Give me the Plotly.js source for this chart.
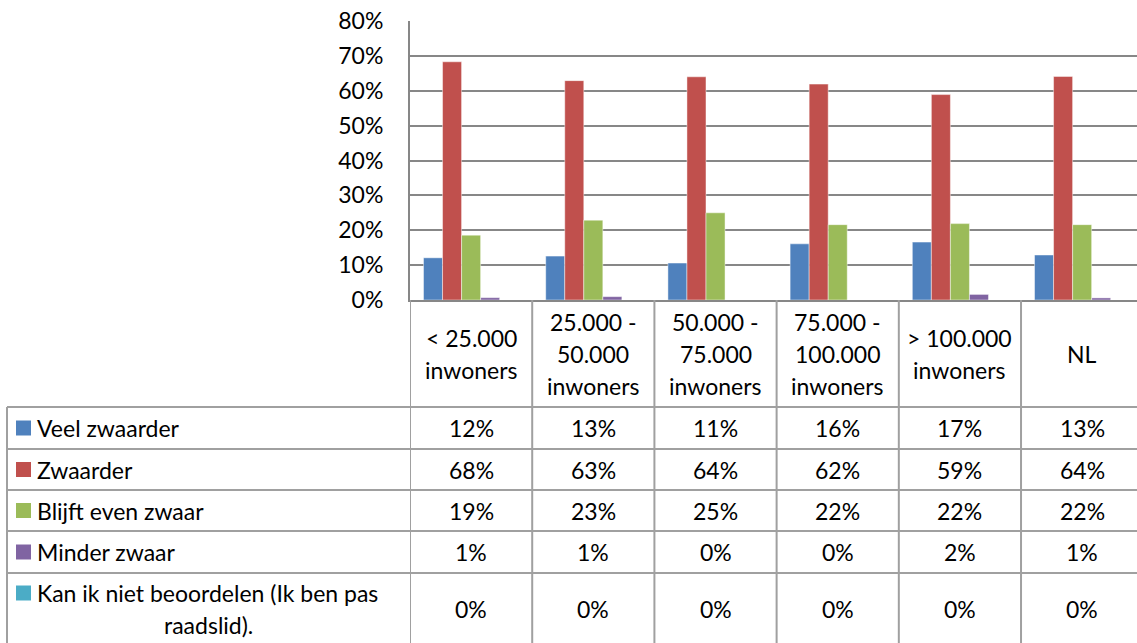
<!DOCTYPE html>
<html><head><meta charset="utf-8">
<script src="https://cdn.plot.ly/plotly-3.0.1.min.js"></script>
<style>html,body{margin:0;padding:0;background:#fff}#chart{width:1137px;height:643px}</style>
</head><body><div id="chart"></div>
<script>
// ---- data ----
const categories = ["&lt; 25.000<br>inwoners", "25.000 -<br>50.000<br>inwoners", "50.000 -<br>75.000<br>inwoners", "75.000 -<br>100.000<br>inwoners", "&gt; 100.000<br>inwoners", "NL"];
const seriesNames = ["Veel zwaarder", "Zwaarder", "Blijft even zwaar", "Minder zwaar", "Kan ik niet beoordelen (Ik ben pas<br>raadslid)."];
const veelZwaarder = [0.121, 0.126, 0.106, 0.161, 0.166, 0.129];
const zwaarder = [0.683, 0.629, 0.640, 0.619, 0.589, 0.641];
const blijftEvenZwaar = [0.186, 0.229, 0.250, 0.216, 0.219, 0.216];
const minderZwaar = [0.0067, 0.0096, 0, 0, 0.016, 0.006];
const kanNietBeoordelen = [0, 0, 0, 0, 0, 0];
const yTickVals = [0, 0.1, 0.2, 0.3, 0.4, 0.5, 0.6, 0.7, 0.8];
const yTickText = ["0%", "10%", "20%", "30%", "40%", "50%", "60%", "70%", "80%"];

const seriesValues = [veelZwaarder, zwaarder, blijftEvenZwaar, minderZwaar, kanNietBeoordelen];
const colors = ["#4F81BD", "#C0504D", "#9BBB59", "#8064A2", "#4BACC6"];

// ---- layout constants (pixels) ----
const W = 1137, H = 643;
const plotTop = 21, plotBottom = 300, plotLeft = 410, tableLeft = 7;
const rowLines = [407, 449, 490, 531, 573];
const headerCenter = 353.5, headerLineGap = 32;
const rowCenters = [428, 469.5, 510.5, 552, 593];
const lastRowValueCenter = 609;
const FONT = "Lato, 'Open Sans', sans-serif";
const FS = 23;
const gridCol = "#878787", tableCol = "#a0a0a0";
const px = v => v / W;
const py = v => 1 - v / H;

const traces = seriesValues.map((vals, i) => ({
  type: "bar", x: categories, y: vals, name: seriesNames[i],
  marker: {color: colors[i], line: {color: "rgba(255,255,255,0.45)", width: 1}},
  hoverinfo: "none"
}));

const shapes = [];
const annotations = [];

// vertical table lines at category boundaries (through the x scale)
for (let i = 0; i <= categories.length; i++) {
  shapes.push({type: "line", xref: "x", yref: "paper", x0: i - 0.5, x1: i - 0.5, y0: 0, y1: py(plotBottom),
    line: {color: tableCol, width: 2}, layer: "above"});
}
// left border of series-name column
shapes.push({type: "line", xref: "paper", yref: "paper", x0: px(tableLeft), x1: px(tableLeft), y0: 0, y1: py(rowLines[0]),
  line: {color: tableCol, width: 2}});
// horizontal row lines
rowLines.forEach(r => shapes.push({type: "line", xref: "paper", yref: "paper", x0: px(tableLeft), x1: 1, y0: py(r), y1: py(r),
  line: {color: tableCol, width: 2}}));

// header labels
categories.forEach((c, i) => {
  const lines = c.split("<br>");
  lines.forEach((ln, k) => {
    const off = (k - (lines.length - 1) / 2) * headerLineGap;
    annotations.push({xref: "x", yref: "paper", x: i, y: py(headerCenter + off), text: ln, showarrow: false,
      xanchor: "center", yanchor: "middle", font: {family: FONT, size: FS, color: "#000"}});
  });
});

// series rows
seriesNames.forEach((name, s) => {
  const lines = name.split("<br>");
  const yc = rowCenters[s];
  shapes.push({type: "rect", xref: "paper", yref: "paper", x0: px(16), x1: px(31), y0: py(yc + 7.5), y1: py(yc - 7.5),
    fillcolor: colors[s], line: {width: 0}});
  lines.forEach((ln, k) => {
    annotations.push({xref: "paper", yref: "paper", x: k === 0 ? px(35) : px((tableLeft + plotLeft) / 2), y: py(yc + k * headerLineGap),
      text: ln, showarrow: false, xanchor: k === 0 ? "left" : "center", yanchor: "middle",
      font: {family: FONT, size: FS, color: "#000"}});
  });
  const vy = lines.length > 1 ? lastRowValueCenter : yc;
  seriesValues[s].forEach((v, i) => {
    annotations.push({xref: "x", yref: "paper", x: i, y: py(vy), text: Math.round(v * 100) + "%", showarrow: false,
      xanchor: "center", yanchor: "middle", font: {family: FONT, size: FS, color: "#000"}});
  });
});

const layout = {
  width: W, height: H,
  margin: {l: 0, r: 0, t: 0, b: 0, pad: 0},
  paper_bgcolor: "#fff", plot_bgcolor: "#fff",
  showlegend: false,
  barmode: "group", bargap: 0.221, bargroupgap: 0,
  font: {family: FONT, size: FS, color: "#000"},
  xaxis: {type: "category", domain: [px(plotLeft), 1], range: [-0.5, 5.449], showticklabels: false, showgrid: false, zeroline: false,
    showline: true, linecolor: gridCol, linewidth: 2, ticks: "", fixedrange: true},
  yaxis: {domain: [py(plotBottom), py(plotTop)], range: [0, 0.8], tickvals: yTickVals, ticktext: yTickText, showgrid: true, gridcolor: gridCol, gridwidth: 2,
    zeroline: false, showline: true, linecolor: gridCol, linewidth: 2, ticks: "", ticklabelstandoff: 20,
    tickfont: {family: FONT, size: FS, color: "#000"}, fixedrange: true},
  shapes: shapes, annotations: annotations
};

Plotly.newPlot("chart", traces, layout, {staticPlot: true, displayModeBar: false});
</script>
</body></html>
